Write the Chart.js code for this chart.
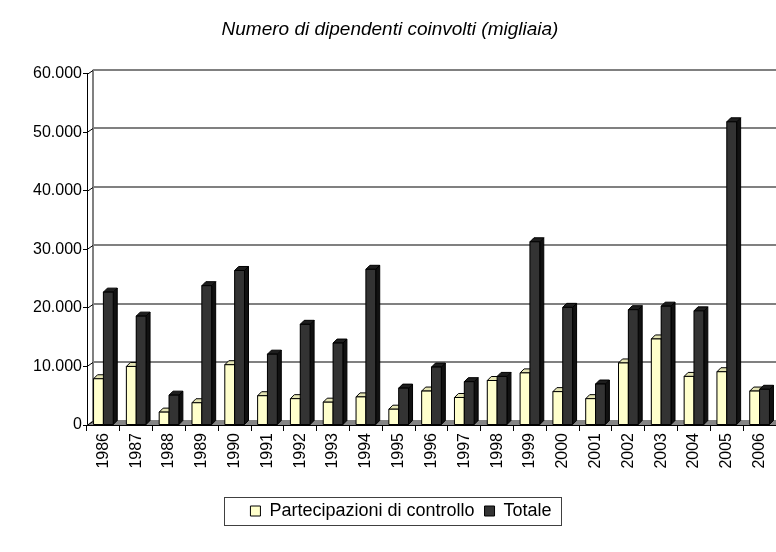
<!DOCTYPE html>
<html>
<head>
<meta charset="utf-8">
<script src="https://cdn.jsdelivr.net/npm/chart.js@4"></script>
<style>
  html, body { margin: 0; padding: 0; background: #fff; overflow: hidden; }
  #wrap { width: 776px; height: 552px; }
</style>
</head>
<body>
<div id="wrap"><canvas id="chart" width="776" height="552"></canvas></div>
<script>
// Dati (migliaia di dipendenti)
const years = ['1986', '1987', '1988', '1989', '1990', '1991', '1992', '1993', '1994', '1995', '1996',
    '1997', '1998', '1999', '2000', '2001', '2002', '2003', '2004', '2005', '2006'];
const partecipazioni = [7900, 10000, 2200, 3800, 10300, 5000, 4500, 3900, 4800, 2700, 5800,
    4700, 7600, 8900, 5700, 4500, 10600, 14700, 8300, 9100, 5800];
const totale = [22700, 18600, 5100, 23800, 26400, 12100, 17200, 14000, 26600, 6300, 9900,
    7400, 8300, 31300, 20100, 7000, 19700, 20300, 19500, 51800, 6100];
const yTicks = [0, 10000, 20000, 30000, 40000, 50000, 60000];

const FONT = '"Liberation Sans", Arial, sans-serif';
const WALL_X = 6;  // spostamento della parete di fondo
const WALL_Y = 4;
const DEPTH = 4;   // profondita' delle barre
const LEGEND_SHIFT = 11;

function fmt(v) {
    return String(v).replace(/\B(?=(\d{3})+(?!\d))/g, '.');
}

// parete di fondo, pavimento e griglia spostata (effetto 3D)
const wallPlugin = {
    id: 'wall',
    beforeDatasetsDraw(chart) {
        const { ctx, chartArea } = chart;
        const y = chart.scales.y;
        const { left, right, top, bottom } = chartArea;
        ctx.save();
        // pavimento
        ctx.fillStyle = '#858585';
        ctx.beginPath();
        ctx.moveTo(left, bottom);
        ctx.lineTo(right, bottom);
        ctx.lineTo(right + WALL_X, bottom - WALL_Y - 1);
        ctx.lineTo(left + WALL_X, bottom - WALL_Y - 1);
        ctx.closePath();
        ctx.fill();
        // griglia sulla parete di fondo
        ctx.strokeStyle = '#808080';
        ctx.lineWidth = 2;
        yTicks.forEach(v => {
            const py = Math.round(y.getPixelForValue(v)) - WALL_Y;
            if (v > 0) {
                ctx.beginPath();
                ctx.moveTo(left + WALL_X, py);
                ctx.lineTo(right, py);
                ctx.stroke();
            }
        });
        ctx.beginPath();
        ctx.moveTo(left + WALL_X, top - WALL_Y);
        ctx.lineTo(left + WALL_X, bottom - WALL_Y);
        ctx.stroke();
        // raccordi diagonali
        ctx.strokeStyle = '#000';
        ctx.lineWidth = 1;
        yTicks.forEach(v => {
            const py = Math.round(y.getPixelForValue(v)) + 0.5;
            ctx.beginPath();
            ctx.moveTo(left, py);
            ctx.lineTo(left + WALL_X, py - WALL_Y);
            ctx.stroke();
        });
        ctx.restore();
    }
};

// facce laterali e superiori delle barre
const barsPlugin = {
    id: 'bars3d',
    afterDatasetsDraw(chart) {
        const ctx = chart.ctx;
        const sides = ['#c8c89a', '#111111'];
        const tops = ['#e4e4b4', '#1e1e1e'];
        const fronts = ['#ffffcc', '#333333'];
        ctx.save();
        ctx.strokeStyle = '#000';
        ctx.lineWidth = 1;
        ctx.lineJoin = 'round';
        years.forEach((_, i) => {
            chart.data.datasets.forEach((ds, d) => {
                const el = chart.getDatasetMeta(d).data[i];
                const x0 = el.x - el.width / 2;
                const x1 = el.x + el.width / 2;
                const yt = el.y;
                const yb = el.base;
                // lato destro
                ctx.fillStyle = sides[d];
                ctx.beginPath();
                ctx.moveTo(x1, yt);
                ctx.lineTo(x1 + DEPTH, yt - DEPTH);
                ctx.lineTo(x1 + DEPTH, yb - DEPTH);
                ctx.lineTo(x1, yb);
                ctx.closePath();
                ctx.fill();
                ctx.stroke();
                // sopra
                ctx.fillStyle = tops[d];
                ctx.beginPath();
                ctx.moveTo(x0, yt);
                ctx.lineTo(x0 + DEPTH, yt - DEPTH);
                ctx.lineTo(x1 + DEPTH, yt - DEPTH);
                ctx.lineTo(x1, yt);
                ctx.closePath();
                ctx.fill();
                ctx.stroke();
                // davanti
                ctx.fillStyle = fronts[d];
                ctx.fillRect(x0, yt, x1 - x0, yb - yt);
                ctx.strokeRect(x0, yt, x1 - x0, yb - yt);
            });
        });
        ctx.restore();
    }
};

// legenda un po' a destra, con cornice
const legendBoxPlugin = {
    id: 'legendBox',
    afterUpdate(chart) {
        const lg = chart.legend;
        lg.left += LEGEND_SHIFT;
        lg.right += LEGEND_SHIFT;
        lg.legendHitBoxes.forEach(b => { b.left += LEGEND_SHIFT; });
    },
    afterDraw(chart) {
        const boxes = chart.legend.legendHitBoxes;
        if (!boxes || !boxes.length) return;
        const ctx = chart.ctx;
        const l = Math.min(...boxes.map(b => b.left)) - 26;
        const r = Math.max(...boxes.map(b => b.left + b.width)) + 10;
        const t = Math.min(...boxes.map(b => b.top)) - 5;
        const b = Math.max(...boxes.map(b => b.top + b.height)) + 5;
        ctx.save();
        ctx.strokeStyle = '#404040';
        ctx.lineWidth = 1;
        ctx.strokeRect(Math.round(l) + 0.5, Math.round(t) + 0.5, Math.round(r - l), Math.round(b - t));
        ctx.restore();
    }
};

new Chart(document.getElementById('chart').getContext('2d'), {
    type: 'bar',
    data: {
        labels: years,
        datasets: [
            {
                label: 'Partecipazioni di controllo',
                data: partecipazioni,
                backgroundColor: '#ffffcc',
                borderColor: '#000',
                borderWidth: 1,
                categoryPercentage: 0.6,
                barPercentage: 1.0
            },
            {
                label: 'Totale',
                data: totale,
                backgroundColor: '#333333',
                borderColor: '#000',
                borderWidth: 1,
                categoryPercentage: 0.6,
                barPercentage: 1.0
            }
        ]
    },
    options: {
        responsive: false,
        animation: false,
        devicePixelRatio: 1,
        layout: {
            padding: { left: 0, right: -4, top: 0, bottom: 22 }
        },
        plugins: {
            title: {
                display: true,
                text: 'Numero di dipendenti coinvolti (migliaia)',
                color: '#000',
                font: { family: FONT, size: 19, style: 'italic', weight: 'normal' },
                padding: { top: 18, bottom: 33 }
            },
            legend: {
                position: 'bottom',
                labels: {
                    color: '#000',
                    font: { family: FONT, size: 18 },
                    boxWidth: 10,
                    boxHeight: 10,
                    padding: 10
                }
            },
            tooltip: { enabled: false }
        },
        scales: {
            x: {
                afterFit: s => {
                    s.height = 67;
                    s.paddingLeft = 0;
                    s.paddingRight = 0;
                },
                grid: {
                    offset: true,
                    drawOnChartArea: false,
                    color: '#000',
                    tickLength: 6
                },
                border: { color: '#000', width: 1 },
                ticks: {
                    color: '#000',
                    font: { family: FONT, size: 16 },
                    minRotation: 90,
                    maxRotation: 90,
                    padding: 2
                }
            },
            y: {
                min: 0,
                max: 60000,
                afterFit: s => { s.width = 87; },
                afterBuildTicks: s => { s.ticks = yTicks.map(v => ({ value: v })); },
                grid: {
                    drawOnChartArea: false,
                    color: '#000',
                    tickLength: 4
                },
                border: { color: '#000', width: 1 },
                ticks: {
                    color: '#000',
                    font: { family: FONT, size: 16 },
                    padding: 1,
                    callback: v => fmt(v)
                }
            }
        }
    },
    plugins: [wallPlugin, barsPlugin, legendBoxPlugin]
});
</script>
</body>
</html>
